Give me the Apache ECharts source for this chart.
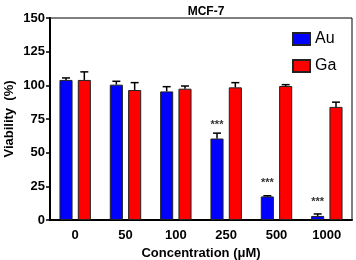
<!DOCTYPE html>
<html>
<head>
<meta charset="utf-8">
<script src="https://cdn.jsdelivr.net/npm/echarts@6/dist/echarts.min.js"></script>
<style>
  html, body { margin: 0; padding: 0; background: #fff; }
  #chart { width: 356px; height: 260px; }
</style>
</head>
<body>
<div id="chart"></div>
<script>
// 数据
var categories = ["0", "50", "100", "250", "500", "1000"];
var auValues = [104, 100.5, 95.5, 60.5, 17.5, 3];
var auErr = [1.5, 2.5, 3.5, 4, 0.5, 1.5];
var gaValues = [104, 96.5, 97.5, 98.5, 99.5, 84];
var gaErr = [6, 5.5, 2, 3.5, 1, 3.5];
var auStars = ["", "", "", "***", "***", "***"];

var font = "'Liberation Sans', Arial, sans-serif";
var BAR_W = 0.26, BAR_GAP = 0.4;

// 误差线
function errorSeries(values, errs, side) {
  return {
    type: "custom",
    silent: true,
    z: 5,
    data: values.map(function (v, i) { return [i, v, v + errs[i]]; }),
    renderItem: function (params, api) {
      var band = api.size([1, 0])[0];
      var off = side * band * BAR_W * (1 + BAR_GAP) / 2;
      var lo = api.coord([api.value(0), api.value(1)]);
      var hi = api.coord([api.value(0), api.value(2)]);
      var x = lo[0] + off;
      var style = { stroke: "#000", lineWidth: 1.5 };
      return {
        type: "group",
        children: [
          { type: "line", shape: { x1: x, y1: lo[1], x2: x, y2: hi[1] }, style: style },
          { type: "line", shape: { x1: x - 4, y1: hi[1], x2: x + 4, y2: hi[1] }, style: style }
        ]
      };
    }
  };
}

var chart = echarts.init(document.getElementById("chart"));
chart.setOption({
  animation: false,
  title: {
    text: "MCF-7",
    left: 201,
    textAlign: "center",
    top: 1,
    textStyle: { fontFamily: font, fontSize: 12, fontWeight: "bold", color: "#000" }
  },
  legend: {
    orient: "vertical",
    left: 292,
    top: 31,
    padding: 0,
    icon: "rect",
    itemWidth: 17,
    itemHeight: 12,
    itemGap: 11,
    data: ["Au", "Ga"],
    textStyle: { fontFamily: font, fontSize: 16, color: "#000" }
  },
  grid: {
    left: 50, top: 18, width: 302, height: 202,
    outerBoundsMode: "none",
    containLabel: false,
    show: true, borderColor: "#000", borderWidth: 1
  },
  xAxis: {
    type: "category",
    data: categories,
    axisLine: { lineStyle: { color: "#000", width: 2 } },
    axisTick: { show: false },
    axisLabel: { fontFamily: font, fontSize: 13, fontWeight: "bold", color: "#000", margin: 9 },
    name: "Concentration (μM)",
    nameLocation: "middle",
    nameGap: 27,
    nameMoveOverlap: false,
    nameTextStyle: { fontFamily: font, fontSize: 13, fontWeight: "bold", color: "#000" }
  },
  yAxis: {
    type: "value",
    min: 0, max: 150, interval: 25,
    axisLine: { show: true, lineStyle: { color: "#000", width: 2 } },
    axisTick: { show: true, length: 4, lineStyle: { color: "#000", width: 1.5 } },
    splitLine: { show: false },
    axisLabel: { fontFamily: font, fontSize: 13, fontWeight: "bold", color: "#000", margin: 5 },
    name: "Viability  (%)",
    nameLocation: "middle",
    nameGap: 34,
    nameMoveOverlap: false,
    nameTextStyle: { fontFamily: font, fontSize: 13, fontWeight: "bold", color: "#000" }
  },
  series: [
    {
      name: "Au",
      type: "bar",
      barWidth: (BAR_W * 100) + "%",
      barGap: (BAR_GAP * 100) + "%",
      itemStyle: { color: "#0000ff", borderColor: "#222", borderWidth: 1 },
      data: auValues.map(function (v, i) {
        return {
          value: v,
          label: {
            show: auStars[i] !== "",
            formatter: auStars[i],
            position: "top",
            distance: 8,
            fontFamily: font, fontSize: 11, fontWeight: "bold", color: "#333"
          }
        };
      })
    },
    {
      name: "Ga",
      type: "bar",
      barWidth: (BAR_W * 100) + "%",
      itemStyle: { color: "#ff0000", borderColor: "#222", borderWidth: 1 },
      data: gaValues
    },
    errorSeries(auValues, auErr, -1),
    errorSeries(gaValues, gaErr, 1)
  ]
});
</script>
</body>
</html>
